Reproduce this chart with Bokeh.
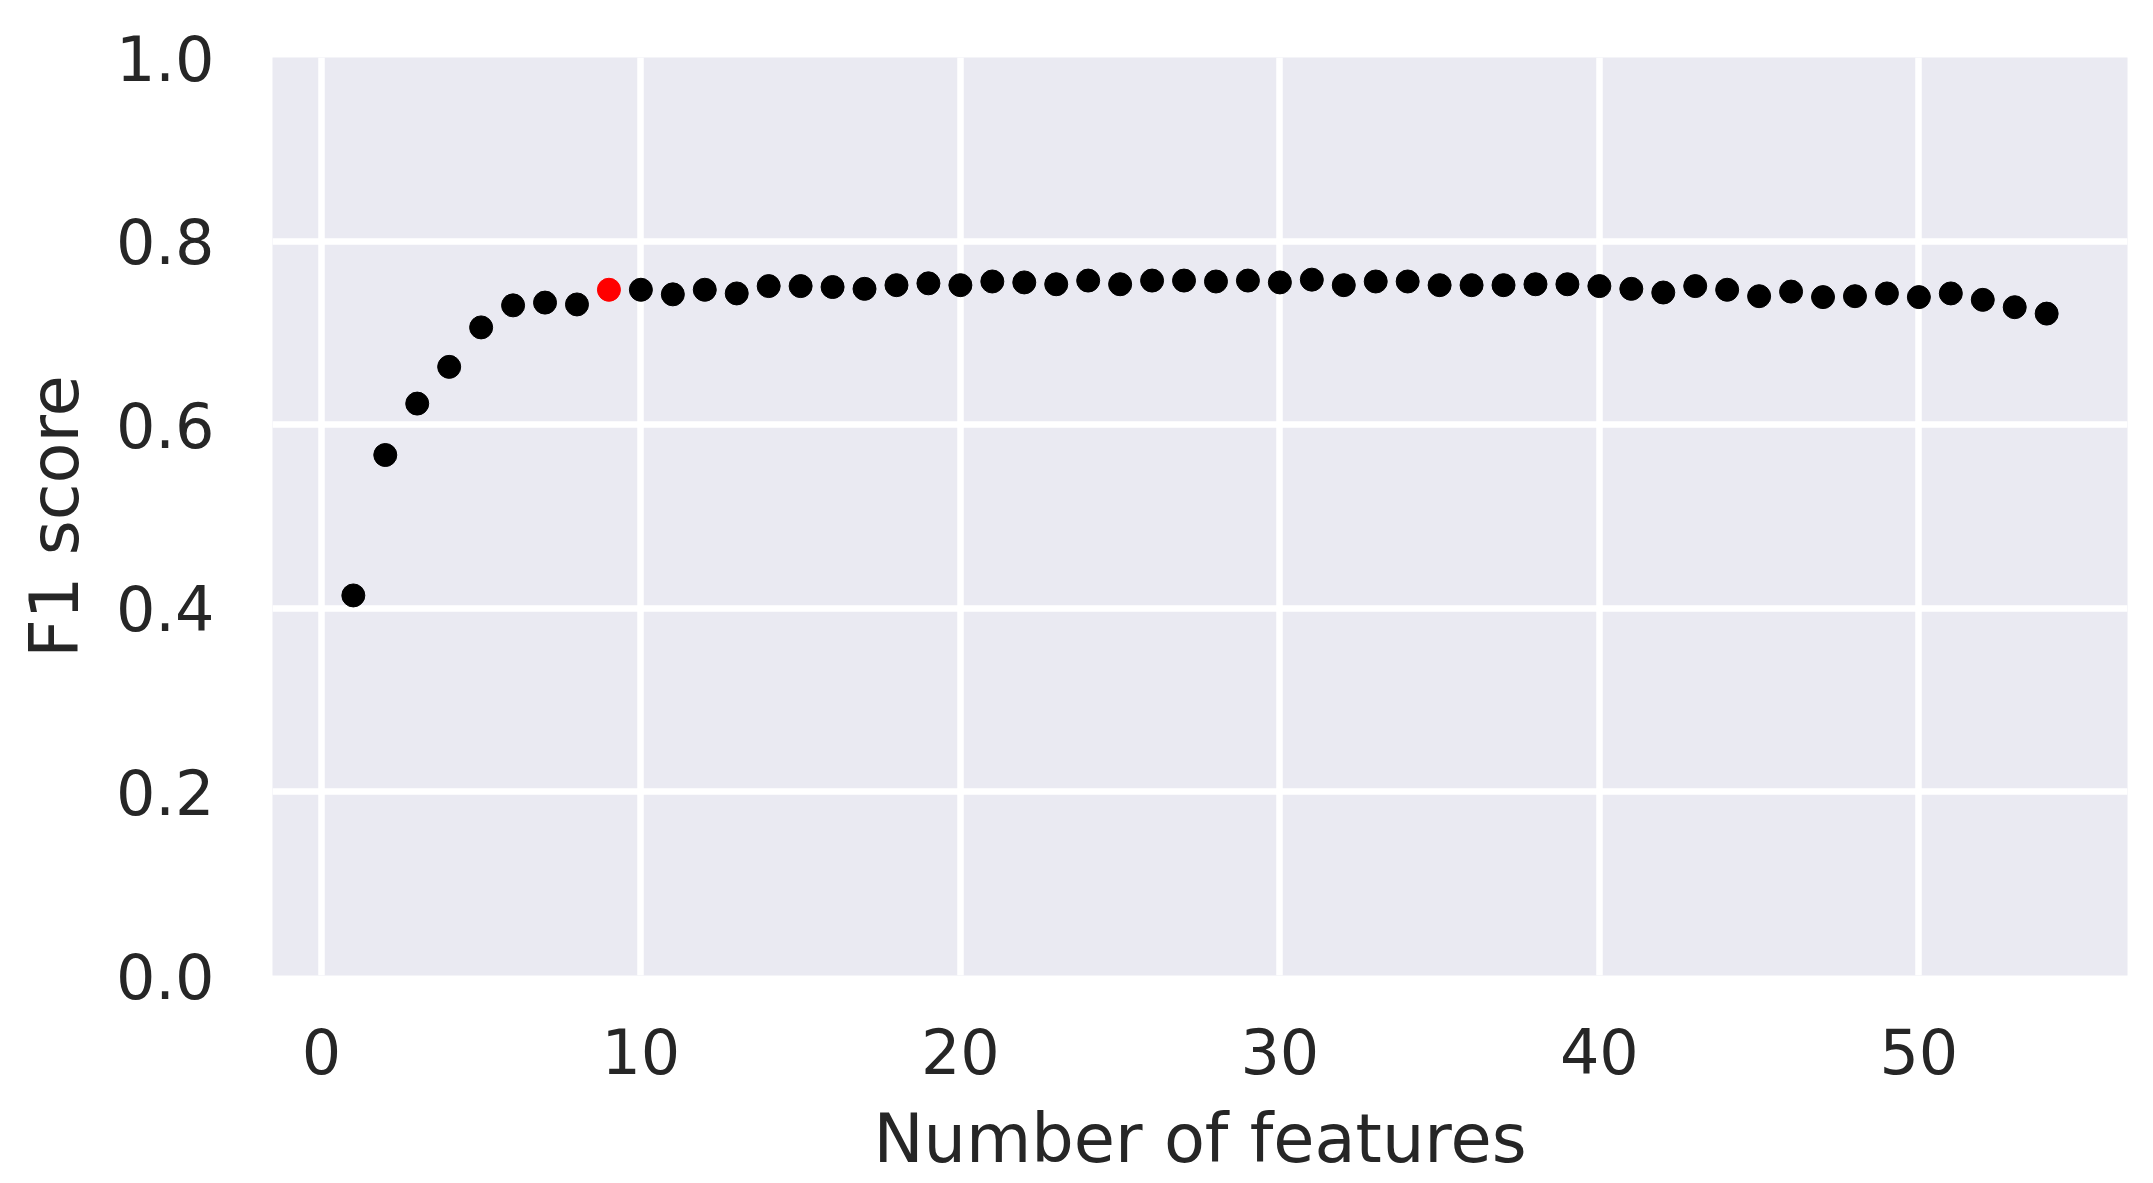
from bokeh.plotting import figure
from bokeh.models import ColumnDataSource, Range1d, FixedTicker
from bokeh.embed import file_html
from bokeh.resources import INLINE

# F1 score for each number of selected features
n_features = [1, 2, 3, 4, 5, 6, 7, 8, 9, 10,
              11, 12, 13, 14, 15, 16, 17, 18, 19, 20,
              21, 22, 23, 24, 25, 26, 27, 28, 29, 30,
              31, 32, 33, 34, 35, 36, 37, 38, 39, 40,
              41, 42, 43, 44, 45, 46, 47, 48, 49, 50,
              51, 52, 53, 54]
f1_scores = [0.414, 0.567, 0.623, 0.663, 0.706, 0.730, 0.733, 0.731, 0.747, 0.747,
             0.742, 0.747, 0.743, 0.751, 0.751, 0.750, 0.748, 0.752, 0.754, 0.752,
             0.756, 0.755, 0.753, 0.757, 0.753, 0.757, 0.757, 0.756, 0.757, 0.755,
             0.758, 0.752, 0.756, 0.756, 0.752, 0.752, 0.752, 0.753, 0.753, 0.751,
             0.748, 0.744, 0.751, 0.747, 0.740, 0.745, 0.739, 0.740, 0.743, 0.739,
             0.743, 0.736, 0.728, 0.721]
selected_n = 9

x_ticks = [0, 10, 20, 30, 40, 50]
y_ticks = [0.0, 0.2, 0.4, 0.6, 0.8, 1.0]

FONT = "DejaVu Sans"
TEXT = "#262626"

rest = [(n, s) for n, s in zip(n_features, f1_scores) if n != selected_n]
best = [(n, s) for n, s in zip(n_features, f1_scores) if n == selected_n]
src = ColumnDataSource(data=dict(x=[r[0] for r in rest], y=[r[1] for r in rest]))
src_best = ColumnDataSource(data=dict(x=[b[0] for b in best], y=[b[1] for b in best]))

p = figure(frame_width=1855, frame_height=918,
           x_range=Range1d(-1.53, 56.53), y_range=Range1d(0, 1),
           output_backend="svg", toolbar_location=None,
           min_border_left=272, min_border_top=57,
           min_border_right=26, min_border_bottom=200,
           background_fill_color="#EAEAF2", border_fill_color="white")
p.outline_line_color = None

p.scatter("x", "y", source=src, size=23, color="black")
p.scatter("x", "y", source=src_best, size=23, color="red")

p.xaxis.ticker = FixedTicker(ticks=x_ticks)
p.yaxis.ticker = FixedTicker(ticks=y_ticks)
p.yaxis.major_label_overrides = {t: "%.1f" % t for t in y_ticks}

for ax in (p.xaxis[0], p.yaxis[0]):
    ax.axis_line_color = None
    ax.major_tick_line_color = None
    ax.minor_tick_line_color = None
    ax.major_label_text_font = FONT
    ax.major_label_text_font_size = "62px"
    ax.major_label_text_color = TEXT
    ax.axis_label_text_font = FONT
    ax.axis_label_text_font_size = "67px"
    ax.axis_label_text_font_style = "normal"
    ax.axis_label_text_color = TEXT

p.xaxis.axis_label = "Number of features"
p.yaxis.axis_label = "F1 score"
p.xaxis.major_label_standoff = 46
p.yaxis.major_label_standoff = 52
p.xaxis.axis_label_standoff = 23
p.yaxis.axis_label_standoff = 19

p.grid.grid_line_color = "white"
p.grid.grid_line_width = 6.5
p.grid.level = "underlay"

open("out.html", "w").write(file_html(p, INLINE))
